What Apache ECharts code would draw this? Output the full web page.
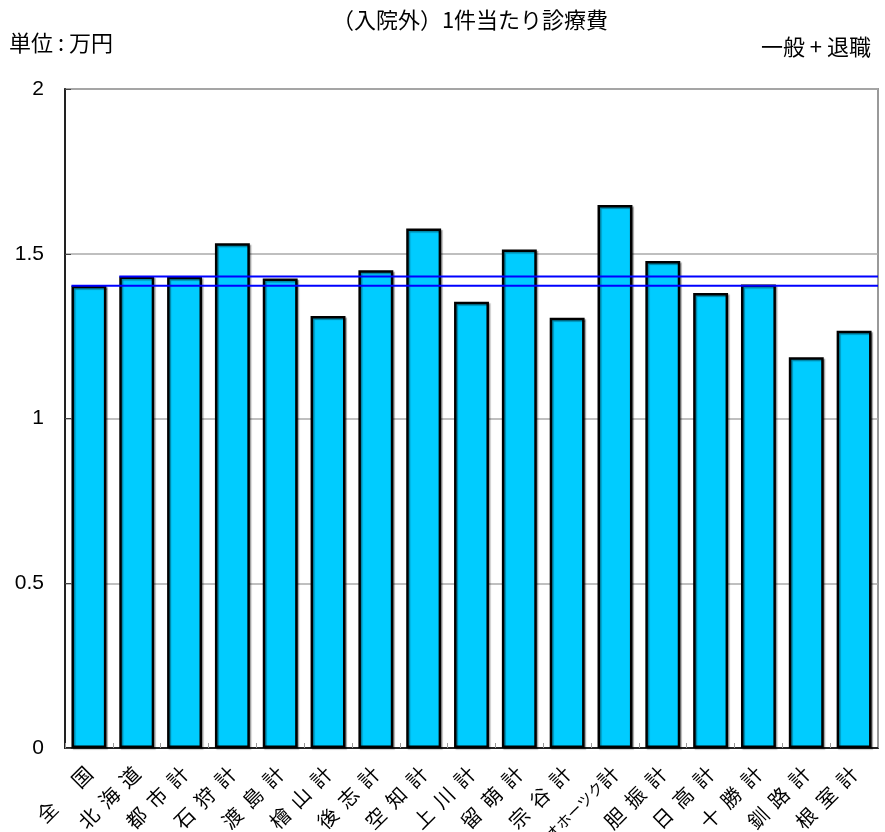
<!DOCTYPE html>
<html>
<head>
<meta charset="utf-8">
<script src="https://cdn.jsdelivr.net/npm/echarts@6/dist/echarts.min.js"></script>
<style>html,body{margin:0;padding:0;background:#fff;}#c{width:885px;height:832px;}</style>
</head>
<body>
<div id="c"></div>
<script>
const categories = ['全 　 国','北  海  道','都  市  計','石  狩  計','渡  島  計','檜  山  計','後  志  計','空  知  計','上  川  計','留  萌  計','宗  谷  計','オホーツク計','胆  振  計','日  高  計','十  勝  計','釧  路  計','根  室  計'];
const values = [1.403,1.431,1.430,1.532,1.425,1.311,1.450,1.577,1.354,1.513,1.306,1.648,1.478,1.381,1.407,1.186,1.266];
const yTicks = [0, 0.5, 1, 1.5, 2];
const refIndices = [0, 1]; // reference lines: 全国, 北海道
const titleText = '（入院外）1件当たり診療費';
const unitText = '単位 : 万円';
const subText = '一般 + 退職';

const barFrac = 0.73;
const n = categories.length;
const refSeries = refIndices.map(function (i) {
  return {
    type: 'line', xAxisIndex: 1, yAxisIndex: 0, symbol: 'none', z: 5, silent: true,
    lineStyle: { color: '#0000FF', width: 2 },
    data: [[i + 0.5 - barFrac / 2, values[i]], [n, values[i]]]
  };
});

const chart = echarts.init(document.getElementById('c'), null, { renderer: 'canvas' });
const jp = '"Noto Sans CJK JP", sans-serif';
const ts = { fontFamily: jp, fontSize: 22, lineHeight: 22, fontWeight: 'normal', color: '#000' };
chart.setOption({
  animation: false,
  backgroundColor: '#fff',
  title: [
    { text: titleText, left: 470, top: 9, textAlign: 'center', padding: 0, textStyle: ts },
    { text: unitText, left: 9, top: 32, padding: 0, textStyle: ts },
    { text: subText, right: 14, top: 36, padding: 0, textStyle: ts }
  ],
  grid: { left: 65, right: 7, top: 89, bottom: 84, show: true, borderColor: '#999', borderWidth: 2, containLabel: false, outerBoundsMode: 'none' },
  xAxis: [
    {
      type: 'category', data: categories, boundaryGap: true,
      axisLine: { lineStyle: { color: '#222', width: 2 } },
      axisTick: { show: true, inside: true, length: 5, lineStyle: { color: '#999' } },
      axisLabel: {
        rotate: 45, interval: 0, margin: 22, fontFamily: jp, fontSize: 20, color: '#000',
        formatter: function (v) {
          return v.indexOf('オホーツク') === 0 ? '{k|オホーツク}{n|' + v.slice(5) + '}' : v;
        },
        rich: {
          k: { fontFamily: jp, fontSize: 15, color: '#000' },
          n: { fontFamily: jp, fontSize: 20, color: '#000' }
        }
      }
    },
    { type: 'value', min: 0, max: n, show: false }
  ],
  yAxis: {
    type: 'value', min: yTicks[0], max: yTicks[yTicks.length - 1], interval: 0.5,
    axisLine: { show: true, lineStyle: { color: '#222', width: 2 } },
    axisTick: { show: true, inside: true, length: 6, lineStyle: { color: '#444' } },
    axisLabel: { margin: 21, fontFamily: 'Liberation Sans, Arial, sans-serif', fontSize: 21, color: '#000' },
    splitLine: { show: true, lineStyle: { color: '#aaa', width: 1.5 } }
  },
  series: [
    {
      type: 'bar', data: values, barWidth: (barFrac * 100) + '%', z: 3,
      itemStyle: { color: '#00CCFF', borderColor: '#000', borderWidth: 2.5,
        shadowColor: 'rgba(0,0,0,0.35)', shadowOffsetX: 1.5, shadowOffsetY: 1.5, shadowBlur: 1 }
    }
  ].concat(refSeries)
});
</script>
</body>
</html>
